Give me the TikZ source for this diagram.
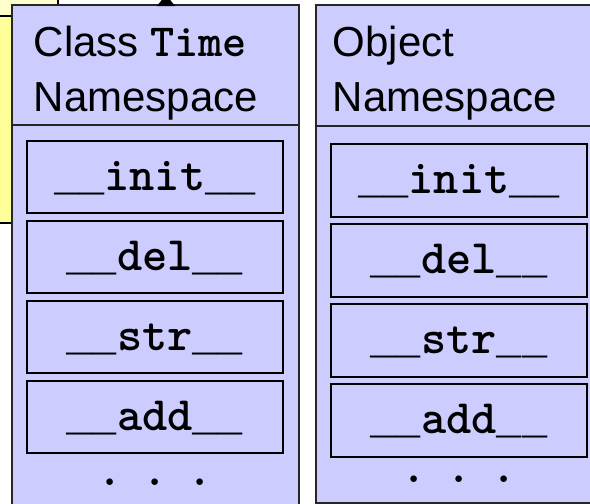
\documentclass[tikz,border=0pt]{standalone}
\usepackage{fontspec}
\setmainfont{Liberation Sans}
\newfontfamily\usfont{Liberation Mono}[Scale=0.875]
\newcommand{\usc}{{\usfont\_}}
\usetikzlibrary{positioning}
\usetikzlibrary{arrows.meta}
\definecolor{nsblue}{HTML}{CCCCFF}
\definecolor{paleyellow}{HTML}{FFFFCC}
\definecolor{noteyellow}{HTML}{FFFF99}
\tikzset{
  notebox/.style={draw,anchor=north west,inner sep=0,outer sep=0},
  nsbox/.style={draw=black!85,fill=nsblue,anchor=north west,inner sep=0,outer sep=0},
  methbox/.style={draw,fill=nsblue,inner sep=0,outer sep=0,minimum width=256pt,
    text height=30pt,text depth=4pt,
    font=\fontsize{48}{48}\selectfont\ttfamily\bfseries},
  nstext/.style={anchor=north west,inner sep=0,align=left,
    font=\fontsize{42}{55}\selectfont},
  dotrow/.style={anchor=base,inner sep=0,font=\fontsize{48}{48}\selectfont\ttfamily\bfseries}
}

\begin{document}
\begin{tikzpicture}[x=1pt,y=-1pt,line width=1.5pt]
\useasboundingbox (0,0) rectangle (590,504);
\clip (0,0) rectangle (590,504);

% notes lying behind the class namespace
\path (-20,-20) node (note) [notebox,fill=paleyellow,minimum width=78pt,minimum height=36pt] {}
      (-20,16) node (memo) [notebox,fill=noteyellow,minimum width=60pt,minimum height=207pt] {};

% the two namespaces
\path (12,5) node (classhd) [nsbox,minimum width=287pt,minimum height=120pt] {}
      (classhd.south west) node (classbody) [nsbox,minimum width=287pt,minimum height=420pt] {};
\path (316,5) node (objhd) [nsbox,minimum width=290pt,minimum height=121pt] {}
      (objhd.south west) node (objbody) [nsbox,minimum width=290pt,minimum height=377pt] {};

\node (classlbl) [nstext] at (33,25) {Class {\fontsize{46}{55}\selectfont\ttfamily\bfseries Time}\\Namespace};
\node (objlbl) [nstext] at (332,25) {Object\\Namespace};

\coordinate (up) at (166,-5);
\draw [-{Triangle[width=18pt,length=11pt]}] (classhd.north -| up) -- (up);

% methods
\path (27,141) node (cinit) [methbox,minimum height=72pt,anchor=north west] {\usc\usc init\usc\usc}
      node (cdel) [methbox,minimum height=72pt,below=8pt of cinit] {\usc\usc del\usc\usc}
      node (cstr) [methbox,minimum height=72pt,below=8pt of cdel] {\usc\usc str\usc\usc}
      node (cadd) [methbox,minimum height=72pt,below=8pt of cstr] {\usc\usc add\usc\usc};
\path (331,144) node (oinit) [methbox,minimum height=73pt,anchor=north west] {\usc\usc init\usc\usc}
      node (odel) [methbox,minimum height=73pt,below=7pt of oinit] {\usc\usc del\usc\usc}
      node (ostr) [methbox,minimum height=73pt,below=7pt of odel] {\usc\usc str\usc\usc}
      node (oadd) [methbox,minimum height=73pt,below=7pt of ostr] {\usc\usc add\usc\usc};

\node (cdots) [dotrow] at (155,485) {.\kern20pt.\kern20pt.};
\node (odots) [dotrow] at (459,482) {.\kern20pt.\kern20pt.};

\end{tikzpicture}
\end{document}
